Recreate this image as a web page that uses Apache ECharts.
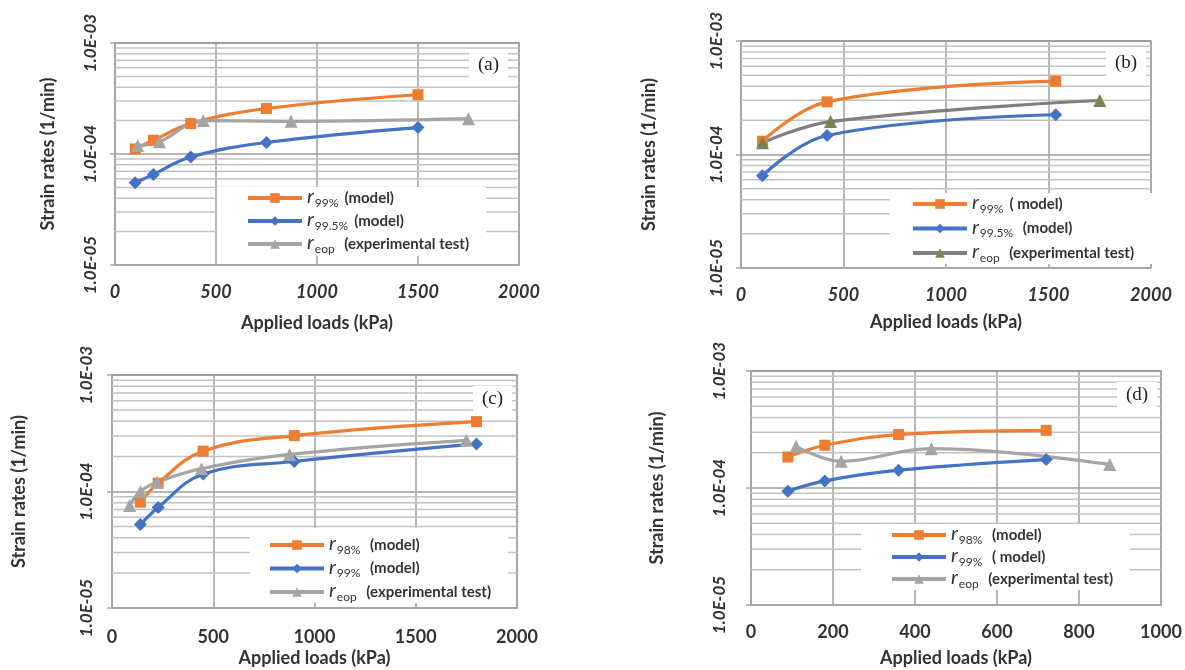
<!DOCTYPE html>
<html>
<head>
<meta charset="utf-8">
<title>Strain rates vs applied loads</title>
<script src="https://cdn.jsdelivr.net/npm/echarts@6/dist/echarts.min.js"></script>
<style>
  html, body { margin: 0; padding: 0; background: #fff; }
  #chart { width: 1185px; height: 670px; }
</style>
</head>
<body>
<div id="chart"></div>
<script>
// (a)
const loadsA = [100, 190, 375, 750, 1500];
const rateA99 = [1.11e-4, 1.33e-4, 1.88e-4, 2.57e-4, 3.42e-4];
const rateA995 = [5.5e-5, 6.55e-5, 9.4e-5, 1.27e-4, 1.73e-4];
const loadsAeop = [112, 220, 437, 872, 1750];
const rateAeop = [1.19e-4, 1.29e-4, 2.0e-4, 1.97e-4, 2.08e-4];

// (b)
const loadsB = [105, 420, 1535];
const rateB99 = [1.31e-4, 2.91e-4, 4.43e-4];
const rateB995 = [6.5e-5, 1.47e-4, 2.24e-4];
const loadsBeop = [105, 437, 1750];
const rateBeop = [1.27e-4, 1.95e-4, 2.99e-4];

// (c)
const loadsC = [140, 228, 450, 900, 1800];
const rateC98 = [8.1e-5, 1.18e-4, 2.22e-4, 3.02e-4, 3.98e-4];
const rateC99 = [5.2e-5, 7.3e-5, 1.41e-4, 1.81e-4, 2.56e-4];
const loadsCeop = [87, 140, 222, 442, 877, 1750];
const rateCeop = [7.6e-5, 1.0e-4, 1.2e-4, 1.57e-4, 2.08e-4, 2.75e-4];

// (d)
const loadsD = [90, 180, 360, 720];
const rateD98 = [1.84e-4, 2.32e-4, 2.86e-4, 3.11e-4];
const rateD99 = [9.4e-5, 1.15e-4, 1.42e-4, 1.75e-4];
const loadsDeop = [110, 220, 440, 875];
const rateDeop = [2.27e-4, 1.69e-4, 2.17e-4, 1.59e-4];

const minorSteps = [2, 3, 4, 5, 6, 7, 8, 9];
const decades = [1e-5, 1e-4];
const panelTags = ['(a)', '(b)', '(c)', '(d)'];

// legend text: [subscript, remark]
const legendText = {
  a1: ['99%', '(model)'], a2: ['99.5%', '(model)'], a3: ['eop', ' (experimental test)'],
  b1: ['99%', '( model)'], b2: ['99.5%', ' (model)'], b3: ['eop', ' (experimental test)'],
  c1: ['98%', ' (model)'], c2: ['99%', ' (model)'], c3: ['eop', ' (experimental test)'],
  d1: ['98%', ' (model)'], d2: ['99%', ' ( model)'], d3: ['eop', ' (experimental test)']
};

const ORANGE = '#ED7D31', BLUE = '#4472C4', GRAY = '#A5A5A5';
const FONT = 'Lato';

const grids = [
  { left: 115, top: 43, width: 404, height: 222 },
  { left: 741, top: 41, width: 410, height: 227 },
  { left: 112, top: 375, width: 405, height: 233 },
  { left: 751, top: 371, width: 410, height: 234 }
];
const xMax = [2000, 2000, 2000, 1000];
const xStep = [500, 500, 500, 200];

function line(name, idx, xs, ys, color, symbol, size, markColor) {
  return {
    name: name, type: 'line', xAxisIndex: idx, yAxisIndex: idx,
    data: xs.map((x, i) => [x, ys[i]]),
    smooth: 0.4, symbol: symbol, symbolSize: size, showSymbol: true,
    lineStyle: { color: color, width: 3.2 },
    itemStyle: { color: markColor || color },
    z: 3, animation: false
  };
}

const minorValues = [];
decades.forEach(d => minorSteps.forEach(s => minorValues.push(d * s)));

// minor log gridlines, one broken line per panel
function minorGrid(idx) {
  const pts = [];
  minorValues.forEach(v => { pts.push([0, v], [xMax[idx], v], [xMax[idx], '-']); });
  return {
    name: 'minor' + idx, type: 'line', xAxisIndex: idx, yAxisIndex: idx,
    data: pts, symbol: 'none', connectNulls: false, silent: true,
    lineStyle: { color: '#c2c2c2', width: 1.5 },
    z: 1, animation: false
  };
}

const series = [
  minorGrid(0), minorGrid(1), minorGrid(2), minorGrid(3),
  line('a1', 0, loadsA, rateA99, ORANGE, 'rect', 11),
  line('a2', 0, loadsA, rateA995, BLUE, 'diamond', 13),
  line('a3', 0, loadsAeop, rateAeop, GRAY, 'triangle', 13),
  line('b1', 1, loadsB, rateB99, ORANGE, 'rect', 11),
  line('b2', 1, loadsB, rateB995, BLUE, 'diamond', 13),
  line('b3', 1, loadsBeop, rateBeop, '#7f7f7f', 'triangle', 13, '#7b8354'),
  line('c1', 2, loadsC, rateC98, ORANGE, 'rect', 11),
  line('c2', 2, loadsC, rateC99, BLUE, 'diamond', 13),
  line('c3', 2, loadsCeop, rateCeop, GRAY, 'triangle', 13),
  line('d1', 3, loadsD, rateD98, ORANGE, 'rect', 11),
  line('d2', 3, loadsD, rateD99, BLUE, 'diamond', 13),
  line('d3', 3, loadsDeop, rateDeop, GRAY, 'triangle', 13)
];

const xLabelItalic = [true, true, false, false];
const xNameGap = [49, 45, 41, 44];
const xLabelMargin = [18, 18, 20, 18];
const yNameGap = [58, 83, 84, 85];
const yLabelMargin = [16, 16, 17, 23];

const xAxis = grids.map((g, i) => ({
  type: 'value', gridIndex: i, min: 0, max: xMax[i], interval: xStep[i],
  name: 'Applied loads (kPa)', nameLocation: 'middle', nameGap: xNameGap[i],
  nameTextStyle: { fontFamily: FONT, fontWeight: 'bold', fontSize: 18, color: '#333' },
  axisLine: { show: true, lineStyle: { color: '#a6a6a6', width: 1.5 } },
  axisTick: { show: false },
  axisLabel: {
    margin: xLabelMargin[i], fontFamily: FONT, fontWeight: 'bold', fontSize: 18, color: '#333',
    fontStyle: xLabelItalic[i] ? 'italic' : 'normal',
    formatter: v => String(v)
  },
  splitLine: { show: true, lineStyle: { color: '#a0a0a0', width: 1.5 } }
}));

const yAxis = grids.map((g, i) => ({
  type: 'log', logBase: 10, gridIndex: i, min: 1e-5, max: 1e-3,
  name: 'Strain rates (1/min)', nameLocation: 'middle', nameGap: yNameGap[i],
  nameTextStyle: { fontFamily: FONT, fontWeight: 'bold', fontSize: 18, color: '#333' },
  axisLine: { show: true, lineStyle: { color: '#a6a6a6', width: 1.5 } },
  axisTick: { show: true, length: 5, lineStyle: { color: '#a6a6a6', width: 1.5 } },
  axisLabel: {
    rotate: 90, margin: yLabelMargin[i], fontFamily: FONT, fontWeight: 'bold',
    fontStyle: 'italic', fontSize: 17, color: '#333',
    formatter: v => '1.0E-' + String(-Math.round(Math.log10(v))).padStart(2, '0')
  },
  splitLine: { show: true, lineStyle: { color: '#9c9c9c', width: 1.5 } }
}));

const legendBoxes = [
  { left: 217, top: 187, padding: [0, 17, 1, 29], itemGap: 1 },
  { left: 890, top: 193, padding: [0, 19, 0, 21], itemGap: 2.5 },
  { left: 250, top: 528, padding: [6, 17, 0, 18], itemGap: 1.5 },
  { left: 861, top: 524, padding: [0, 17, 0, 29], itemGap: 0 }
];

const legendRich = {
  r: { fontFamily: FONT, fontStyle: 'italic', fontSize: 20, lineHeight: 18, verticalAlign: 'top', color: '#333' },
  s: { fontFamily: FONT, fontSize: 12, lineHeight: 12, verticalAlign: 'bottom', padding: [0, 6, 0, 1], color: '#333' },
  m: { fontFamily: FONT, fontWeight: 'bold', fontSize: 15, lineHeight: 22, verticalAlign: 'middle', color: '#333' }
};

const legend = legendBoxes.map((b, i) => {
  const p = 'abcd'[i];
  return {
    orient: 'vertical', left: b.left, top: b.top, padding: b.padding, itemGap: b.itemGap,
    backgroundColor: '#fff', itemWidth: 54, itemHeight: 12, itemTextGap: 6,
    selectedMode: false,
    data: [p + '1', p + '2', p + '3'],
    lineStyle: { width: 4 },
    textStyle: { rich: legendRich },
    formatter: name => '{r|r}{s|' + legendText[name][0] + '}{m|' + legendText[name][1] + '}'
  };
});

const tagPos = [
  { left: 469, top: 52 },
  { left: 1106, top: 50 },
  { left: 473, top: 386 },
  { left: 1117, top: 382 }
];
const title = panelTags.map((t, i) => ({
  text: t, left: tagPos[i].left, top: tagPos[i].top,
  backgroundColor: '#fff', padding: [4, 9],
  textStyle: { fontFamily: 'Liberation Serif', fontSize: 19, fontWeight: 'normal', color: '#222' }
}));

const chart = echarts.init(document.getElementById('chart'));
chart.setOption({
  animation: false,
  backgroundColor: '#fff',
  title: title,
  legend: legend,
  grid: grids.map(g => Object.assign({
    show: true, borderColor: '#a6a6a6', borderWidth: 1.5,
    containLabel: false, outerBoundsMode: 'none'
  }, g)),
  xAxis: xAxis,
  yAxis: yAxis,
  series: series
});
</script>
</body>
</html>
